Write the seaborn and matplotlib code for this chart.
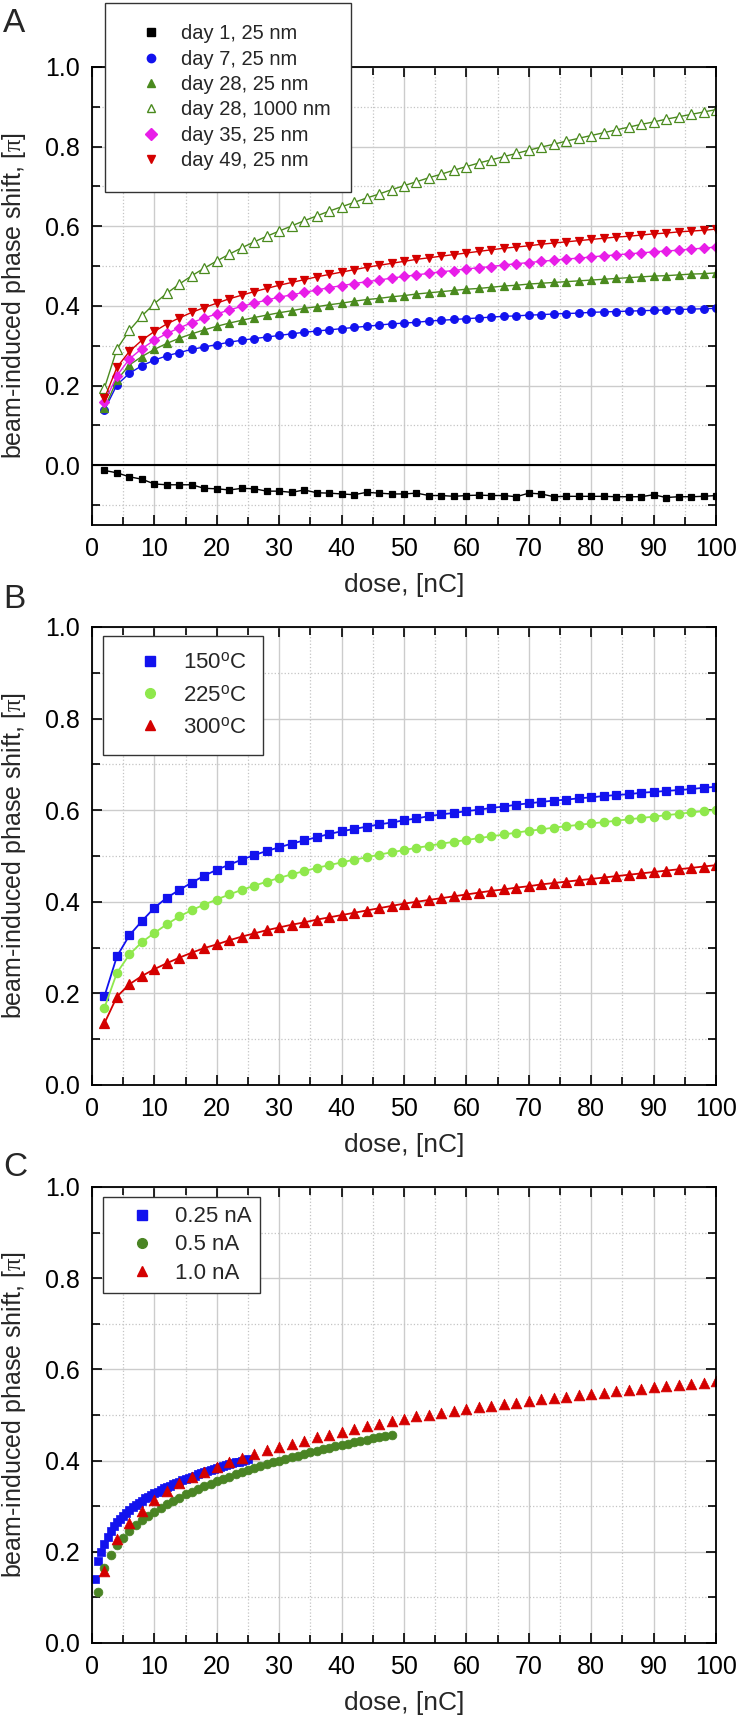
import numpy as np
import matplotlib
matplotlib.use('Agg')
import matplotlib.pyplot as plt
from matplotlib.lines import Line2D
from matplotlib.ticker import MultipleLocator, FormatStrFormatter
import seaborn as sns

# ---------- data ----------
# dose grids, nC
dose_step2 = np.arange(2, 101, 2)        # panels A, B and 1.0 nA of C
dose_half = np.arange(0.5, 25.01, 0.5)   # 0.25 nA
dose_one = np.arange(1, 49, 1)           # 0.5 nA

# panel A: phase shift [pi] vs dose
a_day1 = [-0.013, -0.019, -0.029, -0.035, -0.047, -0.049, -0.049, -0.049, -0.058, -0.059,
          -0.062, -0.058, -0.059, -0.065, -0.065, -0.068, -0.062, -0.069, -0.070, -0.072,
          -0.074, -0.068, -0.070, -0.072, -0.072, -0.070, -0.076, -0.076, -0.078, -0.076,
          -0.075, -0.076, -0.076, -0.079, -0.070, -0.072, -0.079, -0.078, -0.078, -0.078,
          -0.078, -0.079, -0.079, -0.079, -0.074, -0.081, -0.079, -0.079, -0.078, -0.076]
a_day7 = [0.139, 0.202, 0.231, 0.250, 0.264, 0.275, 0.283, 0.291, 0.297, 0.303,
          0.309, 0.314, 0.318, 0.322, 0.326, 0.330, 0.334, 0.337, 0.340, 0.343,
          0.346, 0.349, 0.352, 0.355, 0.357, 0.359, 0.362, 0.364, 0.366, 0.368,
          0.370, 0.372, 0.374, 0.375, 0.377, 0.378, 0.380, 0.381, 0.382, 0.384,
          0.385, 0.386, 0.387, 0.388, 0.389, 0.390, 0.391, 0.392, 0.393, 0.394]
a_day28 = [0.143, 0.214, 0.252, 0.273, 0.291, 0.306, 0.319, 0.330, 0.340, 0.349,
           0.357, 0.364, 0.371, 0.377, 0.383, 0.388, 0.394, 0.398, 0.403, 0.407,
           0.412, 0.416, 0.419, 0.423, 0.426, 0.430, 0.433, 0.436, 0.439, 0.442,
           0.444, 0.447, 0.450, 0.452, 0.455, 0.457, 0.459, 0.461, 0.463, 0.465,
           0.467, 0.469, 0.471, 0.473, 0.475, 0.476, 0.478, 0.480, 0.481, 0.483]
a_day28_1000 = [0.194, 0.292, 0.339, 0.375, 0.406, 0.432, 0.455, 0.476, 0.495, 0.513,
                0.530, 0.546, 0.561, 0.575, 0.588, 0.601, 0.614, 0.626, 0.638, 0.649,
                0.660, 0.671, 0.681, 0.692, 0.702, 0.712, 0.722, 0.731, 0.741, 0.750,
                0.759, 0.767, 0.775, 0.783, 0.791, 0.799, 0.806, 0.814, 0.821, 0.828,
                0.835, 0.842, 0.849, 0.856, 0.862, 0.869, 0.875, 0.881, 0.887, 0.893]
a_day35 = [0.158, 0.225, 0.267, 0.293, 0.314, 0.331, 0.345, 0.358, 0.370, 0.380,
           0.390, 0.399, 0.407, 0.415, 0.422, 0.428, 0.434, 0.440, 0.446, 0.451,
           0.456, 0.461, 0.465, 0.470, 0.474, 0.478, 0.482, 0.486, 0.489, 0.493,
           0.496, 0.499, 0.503, 0.506, 0.509, 0.512, 0.515, 0.518, 0.520, 0.523,
           0.526, 0.528, 0.531, 0.533, 0.536, 0.538, 0.540, 0.543, 0.545, 0.548]
a_day49 = [0.168, 0.246, 0.286, 0.314, 0.336, 0.355, 0.370, 0.384, 0.396, 0.407,
           0.418, 0.427, 0.436, 0.444, 0.452, 0.459, 0.466, 0.473, 0.479, 0.485,
           0.491, 0.497, 0.502, 0.507, 0.512, 0.517, 0.521, 0.525, 0.529, 0.533,
           0.537, 0.541, 0.545, 0.548, 0.551, 0.555, 0.558, 0.561, 0.564, 0.567,
           0.570, 0.573, 0.575, 0.578, 0.581, 0.583, 0.586, 0.588, 0.590, 0.593]

# panel B: annealing temperature
b_150 = [0.194, 0.281, 0.327, 0.358, 0.387, 0.409, 0.426, 0.442, 0.457, 0.470,
         0.481, 0.492, 0.502, 0.511, 0.519, 0.527, 0.534, 0.541, 0.548, 0.554,
         0.559, 0.564, 0.569, 0.573, 0.578, 0.582, 0.587, 0.591, 0.594, 0.598,
         0.601, 0.605, 0.608, 0.612, 0.615, 0.618, 0.621, 0.623, 0.626, 0.628,
         0.631, 0.633, 0.635, 0.638, 0.640, 0.642, 0.644, 0.646, 0.649, 0.651]
b_225 = [0.169, 0.245, 0.285, 0.312, 0.332, 0.351, 0.368, 0.382, 0.394, 0.405,
         0.416, 0.426, 0.435, 0.444, 0.452, 0.460, 0.467, 0.474, 0.480, 0.486,
         0.492, 0.497, 0.503, 0.508, 0.513, 0.518, 0.522, 0.527, 0.531, 0.535,
         0.539, 0.543, 0.547, 0.551, 0.555, 0.558, 0.562, 0.565, 0.568, 0.571,
         0.574, 0.577, 0.580, 0.583, 0.586, 0.589, 0.592, 0.595, 0.598, 0.601]
b_300 = [0.135, 0.193, 0.220, 0.238, 0.253, 0.266, 0.278, 0.289, 0.299, 0.307,
         0.316, 0.324, 0.331, 0.338, 0.344, 0.350, 0.355, 0.361, 0.366, 0.371,
         0.376, 0.381, 0.386, 0.391, 0.396, 0.400, 0.404, 0.408, 0.412, 0.416,
         0.420, 0.424, 0.427, 0.431, 0.434, 0.438, 0.441, 0.444, 0.447, 0.450,
         0.453, 0.456, 0.459, 0.462, 0.465, 0.468, 0.471, 0.474, 0.477, 0.480]

# panel C: beam current
c_025 = [0.140, 0.179, 0.199, 0.217, 0.233, 0.246, 0.256, 0.265, 0.272, 0.279,
         0.286, 0.292, 0.298, 0.303, 0.308, 0.312, 0.317, 0.321, 0.325, 0.329,
         0.332, 0.336, 0.339, 0.342, 0.345, 0.348, 0.351, 0.354, 0.357, 0.360,
         0.362, 0.365, 0.367, 0.370, 0.372, 0.375, 0.377, 0.379, 0.381, 0.384,
         0.386, 0.388, 0.390, 0.392, 0.394, 0.396, 0.398, 0.400, 0.401, 0.403]
c_05 = [0.111, 0.164, 0.193, 0.214, 0.231, 0.246, 0.258, 0.269, 0.279, 0.288,
        0.297, 0.305, 0.312, 0.319, 0.326, 0.332, 0.338, 0.344, 0.349, 0.355,
        0.360, 0.365, 0.370, 0.375, 0.379, 0.384, 0.388, 0.392, 0.396, 0.400,
        0.404, 0.408, 0.411, 0.415, 0.418, 0.422, 0.425, 0.428, 0.431, 0.434,
        0.437, 0.440, 0.443, 0.446, 0.449, 0.452, 0.454, 0.457]
c_10 = [0.157, 0.228, 0.263, 0.290, 0.313, 0.333, 0.350, 0.363, 0.376, 0.387,
        0.397, 0.406, 0.415, 0.423, 0.430, 0.437, 0.444, 0.451, 0.457, 0.463,
        0.469, 0.475, 0.481, 0.487, 0.492, 0.497, 0.501, 0.505, 0.509, 0.513,
        0.517, 0.520, 0.524, 0.527, 0.531, 0.534, 0.537, 0.540, 0.543, 0.546,
        0.549, 0.552, 0.555, 0.558, 0.561, 0.563, 0.566, 0.568, 0.571, 0.574]

labels_a = ['day 1, 25 nm', 'day 7, 25 nm', 'day 28, 25 nm', 'day 28, 1000 nm',
            'day 35, 25 nm', 'day 49, 25 nm']
labels_b = [r'150$^{\mathsf{o}}$C', r'225$^{\mathsf{o}}$C', r'300$^{\mathsf{o}}$C']
labels_c = ['0.25 nA', '0.5 nA', '1.0 nA']

BLACK = '#000000'
BLUE = '#1212ee'
GREEN = '#4a8a1e'
MAGENTA = '#e81ee8'
RED = '#d40000'
LGREEN = '#8fe84c'
DGREEN = '#4a8424'

# ---------- style ----------
sns.set_style('ticks')
plt.rcParams['font.family'] = ['Liberation Sans', 'DejaVu Sans']
plt.rcParams['mathtext.fontset'] = 'custom'
plt.rcParams['mathtext.rm'] = 'Liberation Serif'
plt.rcParams['mathtext.it'] = 'Liberation Serif'
plt.rcParams['mathtext.sf'] = 'Liberation Sans'

fig = plt.figure(figsize=(7.4, 17.22), dpi=100)
L, W = 92 / 740, 624 / 740
axA = fig.add_axes([L, 1 - 525 / 1722, W, 458 / 1722])
axB = fig.add_axes([L, 1 - 1085 / 1722, W, 458 / 1722])
axC = fig.add_axes([L, 1 - 1643 / 1722, W, 456 / 1722])


def style_axis(ax, ymin):
    ax.set_xlim(0, 100)
    ax.set_ylim(ymin, 1.0)
    ax.xaxis.set_major_locator(MultipleLocator(10))
    ax.xaxis.set_minor_locator(MultipleLocator(5))
    ax.yaxis.set_major_locator(MultipleLocator(0.2))
    ax.yaxis.set_minor_locator(MultipleLocator(0.1))
    ax.yaxis.set_major_formatter(FormatStrFormatter('%.1f'))
    ax.grid(which='major', color='#cccccc', lw=1.0, ls='-')
    ax.grid(which='minor', color='#c4c4c4', lw=0.9, ls=':')
    ax.set_axisbelow(True)
    ax.tick_params(which='both', direction='in', top=True, right=True,
                   width=1.2, labelsize=18, pad=9, colors='black')
    ax.tick_params(which='major', length=7)
    ax.tick_params(which='minor', length=6)
    for sp in ax.spines.values():
        sp.set_visible(True)
        sp.set_linewidth(1.3)
        sp.set_color('black')
    ax.set_xlabel('dose, [nC]', fontsize=19)
    ax.set_ylabel(r'beam-induced phase shift, [$\pi$]', fontsize=18)
    ax.xaxis.set_label_coords(0.5, -0.105)
    ax.yaxis.set_label_coords(-0.1026, 0.5)


def draw(ax, x, y, color, marker, ms, face=None, lw=1.0):
    sns.lineplot(x=x, y=y, ax=ax, color=color, marker=marker, markersize=ms,
                 markeredgecolor=color, markerfacecolor=face if face else color,
                 markeredgewidth=0.9, linewidth=lw, estimator=None, sort=False)


def handle(color, marker, ms, face=None):
    return Line2D([], [], ls='none', marker=marker, color=color, markersize=ms,
                  markeredgecolor=color, markerfacecolor=face if face else color)


def box_legend(obj, handles, labels, anchor, transform, fs, **kw):
    leg = obj.legend(handles, labels, loc='upper left', bbox_to_anchor=anchor,
                     bbox_transform=transform, fontsize=fs, frameon=True,
                     fancybox=False, framealpha=1, edgecolor='#333333',
                     borderaxespad=0, **kw)
    leg.get_frame().set_linewidth(1.0)
    return leg


# ---------- panel A ----------
style_axis(axA, -0.15)
axA.axhline(0, color='black', lw=1.5, zorder=1.5)
series_a = [(a_day1, BLACK, 's', 5.0, None),
            (a_day7, BLUE, 'o', 5.5, None),
            (a_day28, GREEN, '^', 6.0, None),
            (a_day28_1000, GREEN, '^', 6.5, 'white'),
            (a_day35, MAGENTA, 'D', 5.0, None),
            (a_day49, RED, 'v', 6.0, None)]
for vals, col, mk, ms, face in series_a:
    draw(axA, dose_step2, vals, col, mk, ms, face)
hA = [handle(c, m, 6, f) for _, c, m, _, f in series_a]
box_legend(fig, hA, labels_a, (105 / 740, 1 - 3 / 1722), fig.transFigure, 14.5,
           borderpad=1.05, handlelength=2.5, handletextpad=0.2, labelspacing=0.32)

# ---------- panel B ----------
style_axis(axB, 0.0)
series_b = [(b_150, BLUE, 's', 5.5), (b_225, LGREEN, 'o', 6.0), (b_300, RED, '^', 6.5)]
for vals, col, mk, ms in series_b:
    draw(axB, dose_step2, vals, col, mk, ms, lw=1.3)
hB = [handle(c, m, 7) for _, c, m, _ in series_b]
box_legend(axB, hB, labels_b, (0.0176, 0.980), axB.transAxes, 16,
           borderpad=0.75, handlelength=2.7, handletextpad=0.15, labelspacing=0.5)

# ---------- panel C ----------
style_axis(axC, 0.0)
sns.scatterplot(x=dose_half, y=c_025, ax=axC, color=BLUE, marker='s', s=34,
                edgecolor=BLUE, linewidth=0.5)
sns.scatterplot(x=dose_one, y=c_05, ax=axC, color=DGREEN, marker='o', s=40,
                edgecolor=DGREEN, linewidth=0.5)
sns.scatterplot(x=dose_step2, y=c_10, ax=axC, color=RED, marker='^', s=60,
                edgecolor=RED, linewidth=0.5)
hC = [handle(BLUE, 's', 6.5), handle(DGREEN, 'o', 7), handle(RED, '^', 7.5)]
box_legend(axC, hC, labels_c, (0.0176, 0.978), axC.transAxes, 16,
           borderpad=0.42, handlelength=2.7, handletextpad=0.1, labelspacing=0.32)

# panel letters
for letter, base in [('A', 32), ('B', 608), ('C', 1176)]:
    fig.text(3 / 740, 1 - base / 1722, letter, fontsize=24, va='baseline', ha='left')

fig.savefig('out.png', dpi=100)
